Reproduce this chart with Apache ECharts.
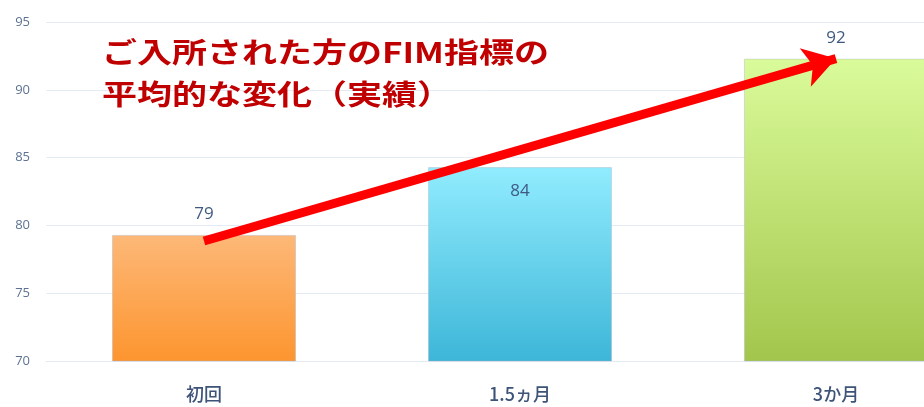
<!DOCTYPE html>
<html>
<head>
<meta charset="utf-8">
<script src="https://cdn.jsdelivr.net/npm/echarts@6/dist/echarts.min.js"></script>
<style>
  html, body { margin: 0; padding: 0; background: #fff; }
  #chart { width: 924px; height: 407px; }
</style>
</head>
<body>
<div id="chart"></div>
<script>
var categories = ['初回', '1.5ヵ月', '3か月'];
var values = [79.3, 84.3, 92.3];
var yTicks = { min: 70, max: 95, step: 5 };
var arrowFrom = ['初回', 78.85];
var arrowTo = ['3か月', 92.3];
var titleText = 'ご入所された方のFIM指標の\n平均的な変化（実績）';

// gradient top / bottom per bar
var barColors = [
    ['#fdb878', '#fd952f'],
    ['#91ecfe', '#3db6d8'],
    ['#dafb9a', '#a2c64c']
];
var labelPos = ['top', 'insideTop', 'top'];

function grad(c) {
    return new echarts.graphic.LinearGradient(0, 0, 0, 1, [
        { offset: 0, color: c[0] },
        { offset: 1, color: c[1] }
    ]);
}

var barData = [];
for (var i = 0; i < values.length; i++) {
    barData.push({
        value: values[i],
        itemStyle: { color: grad(barColors[i]), borderColor: 'rgba(160,170,185,0.35)', borderWidth: 1 },
        label: { position: labelPos[i], distance: labelPos[i] == 'top' ? 12 : 16 }
    });
}

var chart = echarts.init(document.getElementById('chart'));

// the chart is cut off on the right in the original, so the grid runs past the edge
var option = {
    animation: false,
    grid: { left: 46, top: 22, right: -70, bottom: 46, containLabel: false, outerBoundsMode: 'none' },
    xAxis: {
        type: 'category',
        data: categories,
        axisLine: { show: true, lineStyle: { color: '#e4ebf4', width: 1 } },
        axisTick: { show: false },
        axisLabel: {
            color: '#3d5478',
            fontSize: 18,
            fontWeight: 500,
            margin: 24,
            fontFamily: 'Noto Sans CJK JP'
        }
    },
    yAxis: {
        type: 'value',
        min: yTicks.min,
        max: yTicks.max,
        interval: yTicks.step,
        axisLine: { show: false },
        axisTick: { show: false },
        splitLine: { lineStyle: { color: '#e4ebf4', width: 1 } },
        axisLabel: {
            color: '#5d7293',
            fontSize: 13,
            margin: 16,
            fontFamily: 'Open Sans'
        }
    },
    series: [{
        type: 'bar',
        barWidth: 184,
        data: barData,
        label: {
            show: true,
            color: '#3f5a82',
            fontSize: 17,
            fontFamily: 'Open Sans',
            formatter: function(p) { return Math.round(p.value); }
        },
        markLine: {
            silent: true,
            symbol: ['none', 'arrow'],
            symbolSize: [30, 32],
            label: { show: false },
            lineStyle: { color: '#ff0000', width: 9, type: 'solid' },
            data: [[{ coord: arrowFrom }, { coord: arrowTo }]]
        }
    }],
    graphic: [{
        type: 'text',
        x: 102,
        y: 31,
        scaleX: 1.25,
        z: 100,
        style: {
            text: titleText,
            fill: '#c00000',
            fontSize: 28,
            fontWeight: 'bold',
            lineHeight: 42,
            fontFamily: 'Noto Sans CJK JP'
        }
    }]
};

chart.setOption(option);
</script>
</body>
</html>
